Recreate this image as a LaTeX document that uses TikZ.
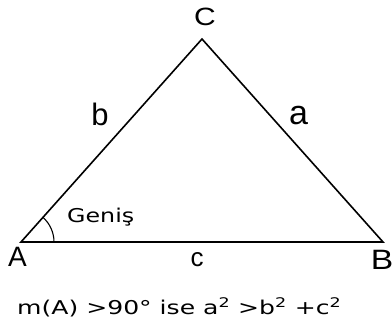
\documentclass[tikz,border=0pt]{standalone}
\usepackage{fontspec}
\usetikzlibrary{calc}
\setmainfont{DejaVu Sans}
\newfontfamily\lblfont{Liberation Sans}
\newfontfamily\lblwide[FakeStretch=1.2]{Liberation Sans}
\newfontfamily\notefont[FakeStretch=1.32]{DejaVu Sans}
\newfontfamily\genfont[FakeStretch=1.25]{DejaVu Sans}
\begin{document}
\begin{tikzpicture}[x=1pt,y=-1pt,
  side/.style={draw=black,line width=1.6pt},
  lbl/.style={font=\lblfont,inner sep=0pt},
  note/.style={inner sep=0pt,anchor=base west}]
\useasboundingbox (0,0) rectangle (392,327);
\coordinate (A) at (21,242);
\coordinate (B) at (383,242);
\coordinate (C) at (202,39);
\draw[side,line join=miter] (A) -- (C) -- (B) -- cycle;
\draw[line width=1.1pt] ($(A)+(33,0)$) arc[start angle=0,end angle=-48.3,radius=33];
\node[lbl,font=\lblfont\fontsize{28}{28}\selectfont] (lA) at (17.5,257) {A};
\node[lbl,font=\lblwide\fontsize{28}{28}\selectfont] (lB) at (382,260) {B};
\node[lbl,font=\lblwide\fontsize{25}{25}\selectfont] (lC) at (205,17) {C};
\node[lbl,font=\lblfont\fontsize{34}{34}\selectfont] (la) at (298.5,116) {a};
\node[lbl,font=\lblfont\fontsize{31}{31}\selectfont] (lb) at (100,114.5) {b};
\node[lbl,font=\lblfont\fontsize{26}{26}\selectfont] (lc) at (197,259.5) {c};
\node[note,font=\genfont\fontsize{19}{19}\selectfont] (g) at (67,222) {Geniş};
\node[note,font=\notefont\fontsize{19}{19}\selectfont] (f) at (17,314) {m(A) >90\textdegree\ ise a\textsuperscript{2} >b\textsuperscript{2} +c\textsuperscript{2}};
\end{tikzpicture}
\end{document}
